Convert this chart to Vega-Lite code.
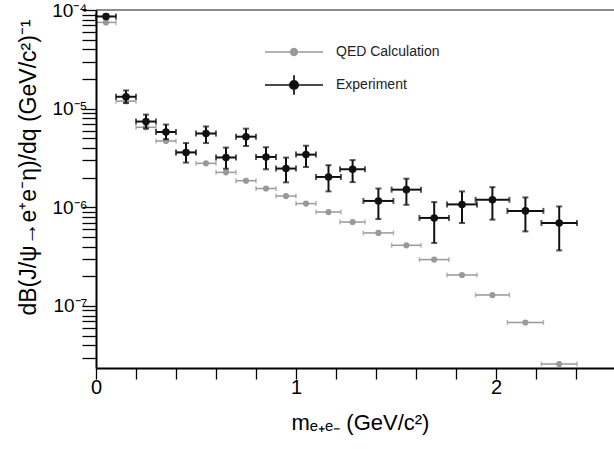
{
  "$schema": "https://vega.github.io/schema/vega-lite/v6.json",
  "width": 518,
  "height": 358,
  "autosize": {"type": "none"},
  "padding": {"left": 96, "top": 10, "right": 0, "bottom": 81},
  "background": "white",
  "config": {
    "view": {"stroke": null},
    "font": "Liberation Sans"
  },
  "data": {
    "values": [
      {"series": "QED Calculation", "x": 0.05, "xlo": 0.0, "xhi": 0.1, "y": 7.48e-5},
      {"series": "QED Calculation", "x": 0.15, "xlo": 0.1, "xhi": 0.2, "y": 1.19e-5},
      {"series": "QED Calculation", "x": 0.25, "xlo": 0.2, "xhi": 0.3, "y": 6.47e-6},
      {"series": "QED Calculation", "x": 0.35, "xlo": 0.3, "xhi": 0.4, "y": 4.7e-6},
      {"series": "QED Calculation", "x": 0.45, "xlo": 0.4, "xhi": 0.5, "y": 3.6e-6},
      {"series": "QED Calculation", "x": 0.55, "xlo": 0.5, "xhi": 0.6, "y": 2.79e-6},
      {"series": "QED Calculation", "x": 0.65, "xlo": 0.6, "xhi": 0.7, "y": 2.26e-6},
      {"series": "QED Calculation", "x": 0.75, "xlo": 0.7, "xhi": 0.8, "y": 1.86e-6},
      {"series": "QED Calculation", "x": 0.85, "xlo": 0.8, "xhi": 0.9, "y": 1.55e-6},
      {"series": "QED Calculation", "x": 0.95, "xlo": 0.9, "xhi": 1.0, "y": 1.3e-6},
      {"series": "QED Calculation", "x": 1.05, "xlo": 1.0, "xhi": 1.1, "y": 1.09e-6},
      {"series": "QED Calculation", "x": 1.1625, "xlo": 1.1, "xhi": 1.225, "y": 8.95e-7},
      {"series": "QED Calculation", "x": 1.283, "xlo": 1.22, "xhi": 1.345, "y": 7.09e-7},
      {"series": "QED Calculation", "x": 1.412, "xlo": 1.337, "xhi": 1.487, "y": 5.5e-7},
      {"series": "QED Calculation", "x": 1.552, "xlo": 1.478, "xhi": 1.625, "y": 4.12e-7},
      {"series": "QED Calculation", "x": 1.691, "xlo": 1.617, "xhi": 1.765, "y": 2.95e-7},
      {"series": "QED Calculation", "x": 1.83, "xlo": 1.755, "xhi": 1.905, "y": 2.06e-7},
      {"series": "QED Calculation", "x": 1.982, "xlo": 1.898, "xhi": 2.067, "y": 1.29e-7},
      {"series": "QED Calculation", "x": 2.147, "xlo": 2.057, "xhi": 2.237, "y": 6.79e-8},
      {"series": "QED Calculation", "x": 2.316, "xlo": 2.227, "xhi": 2.405, "y": 2.58e-8},
      {"series": "Experiment", "x": 0.05, "xlo": 0.0, "xhi": 0.1, "y": 8.6e-5, "ylo": 8.2e-5, "yhi": 9.0e-5},
      {"series": "Experiment", "x": 0.15, "xlo": 0.1, "xhi": 0.2, "y": 1.32e-5, "ylo": 1.14e-5, "yhi": 1.53e-5},
      {"series": "Experiment", "x": 0.25, "xlo": 0.2, "xhi": 0.3, "y": 7.4e-6, "ylo": 6.3e-6, "yhi": 8.7e-6},
      {"series": "Experiment", "x": 0.35, "xlo": 0.3, "xhi": 0.4, "y": 5.8e-6, "ylo": 4.9e-6, "yhi": 6.9e-6},
      {"series": "Experiment", "x": 0.45, "xlo": 0.4, "xhi": 0.5, "y": 3.6e-6, "ylo": 2.84e-6, "yhi": 4.48e-6},
      {"series": "Experiment", "x": 0.55, "xlo": 0.5, "xhi": 0.6, "y": 5.6e-6, "ylo": 4.48e-6, "yhi": 6.6e-6},
      {"series": "Experiment", "x": 0.65, "xlo": 0.6, "xhi": 0.7, "y": 3.2e-6, "ylo": 2.46e-6, "yhi": 4.03e-6},
      {"series": "Experiment", "x": 0.75, "xlo": 0.7, "xhi": 0.8, "y": 5.2e-6, "ylo": 4.18e-6, "yhi": 6.27e-6},
      {"series": "Experiment", "x": 0.85, "xlo": 0.8, "xhi": 0.9, "y": 3.24e-6, "ylo": 2.43e-6, "yhi": 4.06e-6},
      {"series": "Experiment", "x": 0.95, "xlo": 0.9, "xhi": 1.0, "y": 2.47e-6, "ylo": 1.79e-6, "yhi": 3.19e-6},
      {"series": "Experiment", "x": 1.05, "xlo": 1.0, "xhi": 1.1, "y": 3.42e-6, "ylo": 2.56e-6, "yhi": 4.21e-6},
      {"series": "Experiment", "x": 1.1625, "xlo": 1.1, "xhi": 1.225, "y": 2.03e-6, "ylo": 1.45e-6, "yhi": 2.67e-6},
      {"series": "Experiment", "x": 1.283, "xlo": 1.22, "xhi": 1.345, "y": 2.43e-6, "ylo": 1.8e-6, "yhi": 3.01e-6},
      {"series": "Experiment", "x": 1.412, "xlo": 1.337, "xhi": 1.487, "y": 1.16e-6, "ylo": 7.6e-7, "yhi": 1.55e-6},
      {"series": "Experiment", "x": 1.552, "xlo": 1.478, "xhi": 1.625, "y": 1.51e-6, "ylo": 1.06e-6, "yhi": 1.95e-6},
      {"series": "Experiment", "x": 1.691, "xlo": 1.617, "xhi": 1.765, "y": 7.8e-7, "ylo": 4.35e-7, "yhi": 1.13e-6},
      {"series": "Experiment", "x": 1.83, "xlo": 1.755, "xhi": 1.905, "y": 1.07e-6, "ylo": 6.93e-7, "yhi": 1.45e-6},
      {"series": "Experiment", "x": 1.982, "xlo": 1.898, "xhi": 2.067, "y": 1.19e-6, "ylo": 7.5e-7, "yhi": 1.6e-6},
      {"series": "Experiment", "x": 2.147, "xlo": 2.057, "xhi": 2.237, "y": 9.2e-7, "ylo": 5.7e-7, "yhi": 1.26e-6},
      {"series": "Experiment", "x": 2.316, "xlo": 2.227, "xhi": 2.405, "y": 6.93e-7, "ylo": 3.66e-7, "yhi": 1.02e-6}
    ]
  },
  "layer": [
    {
      "mark": {"type": "rule", "color": "#8c8c8c", "strokeWidth": 2},
      "encoding": {
        "y": {"datum": 0.0001, "type": "quantitative", "scale": {"type": "log", "domain": [2.35e-8, 0.0001], "nice": false}, "title": "dB(J/ψ→e⁺e⁻η)/dq (GeV/c²)⁻¹",
          "axis": {
            "values": [3e-8, 4e-8, 5e-8, 6e-8, 7e-8, 8e-8, 9e-8, 1e-7, 2e-7, 3e-7, 4e-7, 5e-7, 6e-7, 7e-7, 8e-7, 9e-7, 1e-6, 2e-6, 3e-6, 4e-6, 5e-6, 6e-6, 7e-6, 8e-6, 9e-6, 1e-5, 2e-5, 3e-5, 4e-5, 5e-5, 6e-5, 7e-5, 8e-5, 9e-5, 0.0001],
            "labelExpr": "abs(log(datum.value)/LN10 - round(log(datum.value)/LN10)) < 0.001 ? '10⁻' + ['⁰','¹','²','³','⁴','⁵','⁶','⁷','⁸','⁹'][-round(log(datum.value)/LN10)] : ''",
            "ticks": true,
            "tickSize": 14,
            "tickColor": "#000000",
            "tickWidth": 1.3,
            "tickOpacity": 1,
            "zindex": 1,
            "encode": {
              "ticks": {
                "update": {
                  "x2": [
                    {"test": "abs(log(datum.value)/LN10 - round(log(datum.value)/LN10)) < 0.001", "value": 14},
                    {"value": 7}
                  ]
                }
              }
            },
            "domainColor": "#000000",
            "domainWidth": 2,
            "grid": false,
            "labelFont": "Liberation Sans",
            "labelFontSize": 19,
            "labelColor": "#000000",
            "labelPadding": -5,
            "labelOverlap": false,
            "labelFlush": false,
            "labelBound": false,
            "titleFont": "Liberation Sans",
            "titleFontSize": 23,
            "titleFontWeight": "normal",
            "titleColor": "#000000",
            "titleAngle": -90,
            "titleX": -61,
            "titleY": 157,
            "titleAlign": "center",
            "titleBaseline": "alphabetic"
          }
        }
      }
    },
    {
      "transform": [{"filter": "datum.series == 'QED Calculation'"}],
      "mark": {"type": "errorbar", "ticks": true, "size": 5, "thickness": 1.5, "color": "#999999"},
      "encoding": {
        "x": {"field": "xlo", "type": "quantitative", "scale": {"domain": [0, 2.59], "nice": false}, "title": "mₑ₊ₑ₋ (GeV/c²)",
          "axis": {
            "values": [0, 0.2, 0.4, 0.6, 0.8, 1, 1.2, 1.4, 1.6, 1.8, 2, 2.2, 2.4],
            "labelExpr": "abs(datum.value - round(datum.value)) < 0.001 ? format(datum.value, 'd') : ''",
            "ticks": true,
            "tickSize": 11,
            "tickColor": "#000000",
            "tickWidth": 1.3,
            "tickOpacity": 1,
            "zindex": 1,
            "encode": {
              "ticks": {
                "update": {
                  "y2": [
                    {"test": "abs(datum.value - round(datum.value)) < 0.001", "value": -11},
                    {"value": -5}
                  ]
                }
              }
            },
            "domainColor": "#000000",
            "domainWidth": 2,
            "grid": false,
            "labelFont": "Liberation Sans",
            "labelFontSize": 20,
            "labelColor": "#000000",
            "labelPadding": -2,
            "labelOverlap": false,
            "labelFlush": false,
            "labelBound": false,
            "titleFont": "Liberation Sans",
            "titleFontSize": 22,
            "titleFontWeight": "normal",
            "titleColor": "#000000",
            "titleX": 264,
            "titleY": 61,
            "titleAlign": "center",
            "titleBaseline": "alphabetic"
          }
        },
        "x2": {"field": "xhi"},
        "y": {"field": "y", "type": "quantitative", "scale": {"type": "log", "domain": [2.35e-8, 0.0001], "nice": false}, "title": "dB(J/ψ→e⁺e⁻η)/dq (GeV/c²)⁻¹"}
      }
    },
    {
      "transform": [{"filter": "datum.series == 'QED Calculation'"}],
      "mark": {"type": "point", "filled": true, "size": 38, "color": "#999999", "opacity": 1},
      "encoding": {
        "x": {"field": "x", "type": "quantitative", "scale": {"domain": [0, 2.59], "nice": false}, "title": "mₑ₊ₑ₋ (GeV/c²)"},
        "y": {"field": "y", "type": "quantitative", "scale": {"type": "log", "domain": [2.35e-8, 0.0001], "nice": false}, "title": "dB(J/ψ→e⁺e⁻η)/dq (GeV/c²)⁻¹"}
      }
    },
    {
      "transform": [{"filter": "datum.series == 'Experiment'"}],
      "mark": {"type": "errorbar", "ticks": true, "size": 6, "thickness": 2, "color": "#111111"},
      "encoding": {
        "x": {"field": "xlo", "type": "quantitative", "scale": {"domain": [0, 2.59], "nice": false}, "title": "mₑ₊ₑ₋ (GeV/c²)"},
        "x2": {"field": "xhi"},
        "y": {"field": "y", "type": "quantitative", "scale": {"type": "log", "domain": [2.35e-8, 0.0001], "nice": false}, "title": "dB(J/ψ→e⁺e⁻η)/dq (GeV/c²)⁻¹"}
      }
    },
    {
      "transform": [{"filter": "datum.series == 'Experiment'"}],
      "mark": {"type": "errorbar", "ticks": true, "size": 6, "thickness": 2, "color": "#111111"},
      "encoding": {
        "x": {"field": "x", "type": "quantitative", "scale": {"domain": [0, 2.59], "nice": false}, "title": "mₑ₊ₑ₋ (GeV/c²)"},
        "y": {"field": "ylo", "type": "quantitative", "scale": {"type": "log", "domain": [2.35e-8, 0.0001], "nice": false}, "title": "dB(J/ψ→e⁺e⁻η)/dq (GeV/c²)⁻¹"},
        "y2": {"field": "yhi"}
      }
    },
    {
      "transform": [{"filter": "datum.series == 'Experiment'"}],
      "mark": {"type": "point", "filled": true, "size": 57, "color": "#111111", "opacity": 1},
      "encoding": {
        "x": {"field": "x", "type": "quantitative", "scale": {"domain": [0, 2.59], "nice": false}, "title": "mₑ₊ₑ₋ (GeV/c²)"},
        "y": {"field": "y", "type": "quantitative", "scale": {"type": "log", "domain": [2.35e-8, 0.0001], "nice": false}, "title": "dB(J/ψ→e⁺e⁻η)/dq (GeV/c²)⁻¹"}
      }
    },
    {
      "mark": {"type": "point", "filled": true, "opacity": 0},
      "encoding": {
        "x": {"field": "x", "type": "quantitative", "scale": {"domain": [0, 2.59], "nice": false}, "title": "mₑ₊ₑ₋ (GeV/c²)"},
        "y": {"field": "y", "type": "quantitative", "scale": {"type": "log", "domain": [2.35e-8, 0.0001], "nice": false}, "title": "dB(J/ψ→e⁺e⁻η)/dq (GeV/c²)⁻¹"},
        "fill": {"field": "series", "type": "nominal",
          "scale": {"domain": ["QED Calculation", "Experiment"], "range": ["#999999", "#111111"]},
          "legend": {"orient": "none", "legendX": 181, "legendY": 25, "direction": "vertical", "title": null, "symbolSize": 1024, "symbolStrokeWidth": 1.7, "symbolOpacity": 1, "rowPadding": 9, "padding": 0, "labelOffset": 25, "labelFont": "Liberation Sans", "labelFontSize": 14, "labelColor": "#222222", "labelBaseline": "middle"}
        },
        "stroke": {"field": "series", "type": "nominal",
          "scale": {"domain": ["QED Calculation", "Experiment"], "range": ["#999999", "#111111"]},
          "legend": {"orient": "none", "legendX": 181, "legendY": 25, "direction": "vertical", "title": null, "symbolSize": 1024, "symbolStrokeWidth": 1.7, "symbolOpacity": 1, "rowPadding": 9, "padding": 0, "labelOffset": 25, "labelFont": "Liberation Sans", "labelFontSize": 14, "labelColor": "#222222", "labelBaseline": "middle"}
        },
        "shape": {"field": "series", "type": "nominal",
          "scale": {"domain": ["QED Calculation", "Experiment"], "range": ["M-1.8125,0H1.8125M-0.206,0A0.206,0.206 0 1,0 0.206,0A0.206,0.206 0 1,0 -0.206,0Z", "M-1.8125,0H1.8125M0,-0.606V0.606M-0.2625,0A0.2625,0.2625 0 1,0 0.2625,0A0.2625,0.2625 0 1,0 -0.2625,0Z"]},
          "legend": {"orient": "none", "legendX": 181, "legendY": 25, "direction": "vertical", "title": null, "symbolSize": 1024, "symbolStrokeWidth": 1.7, "symbolOpacity": 1, "rowPadding": 9, "padding": 0, "labelOffset": 25, "labelFont": "Liberation Sans", "labelFontSize": 14, "labelColor": "#222222", "labelBaseline": "middle"}
        }
      }
    }
  ]
}
